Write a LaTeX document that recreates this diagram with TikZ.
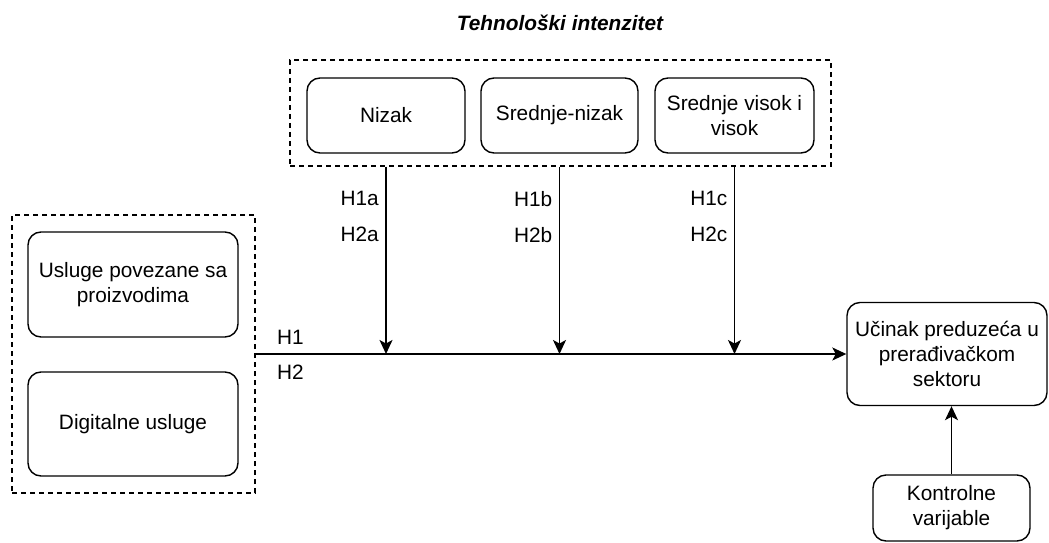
\documentclass[tikz,border=0pt]{standalone}
\usepackage{fontspec}
\setmainfont{Liberation Sans}
\usetikzlibrary{arrows.meta,calc}

\tikzset{
  every node/.style={font=\fontsize{20.8}{25}\selectfont, inner sep=0pt},
  box/.style={draw, line width=1.4pt, rounded corners=13pt, align=center},
  group/.style={draw, line width=1.3pt, dash pattern=on 5pt off 4pt},
  link/.style={line width=1.5pt, -{Stealth[length=14pt, width=13pt, inset=3.5pt]}},
  hlabel/.style={anchor=east},
}

\begin{document}
\begin{tikzpicture}[x=1pt, y=-1pt]
  \useasboundingbox (0,0) rectangle (1049,543);

  % title of the moderator group
  \node (title) at (560,23) {\bfseries\itshape Tehnološki intenzitet};

  % technology intensity group
  \node[group, minimum width=541pt, minimum height=106pt] (tech) at (560.5,113) {};
  \node[box, minimum width=158pt, minimum height=75pt] (low) at (386,115.5) {Nizak};
  \node[box, minimum width=157pt, minimum height=75pt] (midlow) at (559.5,115.5) {Srednje-nizak};
  \node[box, minimum width=159pt, minimum height=75pt] (high) at (734.5,115.5) {Srednje visok i\\visok};

  % services group
  \node[group, minimum width=243pt, minimum height=278pt] (serv) at (133.5,354) {};
  \node[box, minimum width=210pt, minimum height=105pt] (prod) at (133,284.5) {Usluge povezane sa\\proizvodima};
  \node[box, minimum width=210pt, minimum height=104pt] (digi) at (133,424) {Digitalne usluge};

  % outcome and controls
  \node[box, minimum width=200pt, minimum height=103pt] (perf) at (947,354) {Učinak preduzeća u\\prerađivačkom\\sektoru};
  \node[box, minimum width=157pt, minimum height=66pt] (ctrl) at (951.5,508) {Kontrolne\\varijable};

  % main path
  \draw[link] (serv.east) -- (perf.west);
  \node[anchor=west] (h1) at (277,337) {H1};
  \node[anchor=west] (h2) at (277,372) {H2};

  % moderating paths
  \coordinate (ma) at (low |- perf.west);
  \coordinate (mb) at (midlow |- perf.west);
  \coordinate (mc) at (high |- perf.west);
  \draw[link] (low |- tech.south) -- (ma);
  \draw[link] (midlow |- tech.south) -- (mb);
  \draw[link] (high |- tech.south) -- (mc);

  \node[hlabel] (h1a) at ($(low |- tech.south)+(-7,32)$) {H1a};
  \node[hlabel] (h2a) at ($(low |- tech.south)+(-7,68)$) {H2a};
  \node[hlabel] (h1b) at ($(midlow |- tech.south)+(-7,32)$) {H1b};
  \node[hlabel] (h2b) at ($(midlow |- tech.south)+(-7,68)$) {H2b};
  \node[hlabel] (h1c) at ($(high |- tech.south)+(-7,32)$) {H1c};
  \node[hlabel] (h2c) at ($(high |- tech.south)+(-7,68)$) {H2c};

  % control variables
  \draw[link] (ctrl.north) -- (ctrl.north |- perf.south);
\end{tikzpicture}
\end{document}
